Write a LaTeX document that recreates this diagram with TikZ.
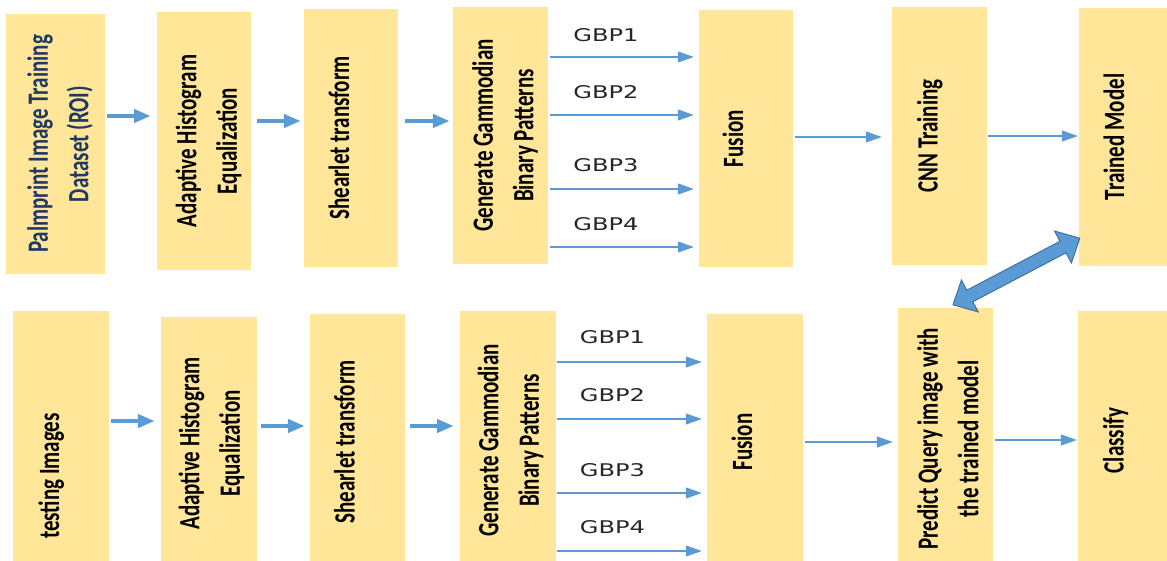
\documentclass[tikz,border=0pt]{standalone}
\usepackage{fontspec}
\setmainfont{Carlito}
\newfontfamily\gbpfont{DejaVu Sans}
\usetikzlibrary{arrows.meta,calc}
\definecolor{boxfill}{HTML}{FFE699}
\definecolor{arrblue}{HTML}{5B9BD5}
\definecolor{arredge}{HTML}{41719C}
\definecolor{navytxt}{HTML}{203864}
\newcommand{\boxtxt}[1]{\scalebox{1.4}[1]{\rotatebox{90}{\begin{tabular}{@{}c@{}}#1\end{tabular}}}}
\newcommand{\gbptxt}[1]{\scalebox{1.38}[1]{#1}}
\newcommand{\toleft}[2]{#2\hspace*{#1}}
\newcommand{\toright}[2]{\hspace*{#1}#2}
\tikzset{
  boxfont/.style={font=\bfseries\fontsize{21}{29}\selectfont},
  stagebox/.style={fill=boxfill, draw=none, inner sep=0pt, boxfont},
  gbplabel/.style={font=\gbpfont\fontsize{17.5}{20}\selectfont, inner sep=0pt, text=black!85},
  thickarrow/.style={-{Triangle[length=17pt,width=13pt]}, line width=4.5pt, draw=arrblue},
  thinarrow/.style={-{Triangle[length=16pt,width=11pt]}, line width=1.1pt, draw=arrblue},
  blockarrow/.style={fill=arrblue, draw=arredge, line width=1pt, line join=miter}
}
\begin{document}
\begin{tikzpicture}[x=1pt,y=1pt]
\useasboundingbox (0,0) rectangle (1167,-560);
\begin{scope}
\clip (0,0) rectangle (1167,-560);
% top row
\node[stagebox, minimum width=99pt, minimum height=260pt, text=navytxt] (b1) at (55.5,-144) {\toright{9pt}{\boxtxt{Palmprint Image Training\\Dataset (ROI)}}};
\node[stagebox, minimum width=94pt, minimum height=258pt] (b2) at (204,-141) {\toright{9pt}{\boxtxt{Adaptive Histogram\\Equalization}}};
\node[stagebox, minimum width=94pt, minimum height=258pt] (b3) at (351,-138) {\toleft{20pt}{\boxtxt{Shearlet transform}}};
\node[stagebox, minimum width=95pt, minimum height=257pt] (b4) at (500.5,-135.5) {\toright{9pt}{\boxtxt{Generate Gammodian\\Binary Patterns}}};
\node[stagebox, minimum width=94pt, minimum height=257pt] (b5) at (746,-138.5) {\toleft{22pt}{\boxtxt{Fusion}}};
\node[stagebox, minimum width=95pt, minimum height=258pt] (b6) at (939.5,-136) {\toleft{20pt}{\boxtxt{CNN Training}}};
\node[stagebox, minimum width=88pt, minimum height=258pt] (b7) at (1123,-137) {\toleft{14pt}{\boxtxt{Trained Model}}};
% bottom row
\node[stagebox, minimum width=96pt, minimum height=259pt,
  label={[boxfont, inner sep=0pt, xshift=-10pt, yshift=-35.5pt]center:{\boxtxt{testing Images}}}] (c1) at (61,-440.5) {};
\node[stagebox, minimum width=96pt, minimum height=253pt] (c2) at (209,-443.5) {\toright{5pt}{\boxtxt{Adaptive Histogram\\Equalization}}};
\node[stagebox, minimum width=95pt, minimum height=256pt] (c3) at (357.5,-442) {\toleft{22pt}{\boxtxt{Shearlet transform}}};
\node[stagebox, minimum width=96pt, minimum height=259pt] (c4) at (508,-440.5) {\toright{5pt}{\boxtxt{Generate Gammodian\\Binary Patterns}}};
\node[stagebox, minimum width=96pt, minimum height=256pt] (c5) at (755,-442) {\toleft{22pt}{\boxtxt{Fusion}}};
\node[stagebox, minimum width=95pt, minimum height=262pt] (c6) at (945.5,-439) {\toright{9pt}{\boxtxt{Predict Query image with\\the trained model}}};
\node[stagebox, minimum width=89pt, minimum height=259pt] (c7) at (1122.5,-440.5) {\toleft{14pt}{\boxtxt{Classify}}};
% GBP labels
\node[gbplabel] (t1) at (606,-35) {\gbptxt{GBP1}};
\node[gbplabel] (t2) at (606,-92) {\gbptxt{GBP2}};
\node[gbplabel] (t3) at (606,-165.5) {\gbptxt{GBP3}};
\node[gbplabel] (t4) at (606,-224) {\gbptxt{GBP4}};
\node[gbplabel] (u1) at (612.5,-337.5) {\gbptxt{GBP1}};
\node[gbplabel] (u2) at (612.5,-395.5) {\gbptxt{GBP2}};
\node[gbplabel] (u3) at (612.5,-470) {\gbptxt{GBP3}};
\node[gbplabel] (u4) at (612.5,-527.5) {\gbptxt{GBP4}};
% thick arrows top
\draw[thickarrow, shorten <=2pt] (b1.east |- 0,-116) -- ([xshift=-6pt]b2.west |- 0,-116);
\draw[thickarrow, shorten <=6pt] (b2.east |- 0,-121) -- ([xshift=-3pt]b3.west |- 0,-121);
\draw[thickarrow, shorten <=7pt] (b3.east |- 0,-121) -- ([xshift=-3pt]b4.west |- 0,-121);
% thick arrows bottom
\draw[thickarrow, shorten <=2pt] (c1.east |- 0,-421) -- ([xshift=-6pt]c2.west |- 0,-421);
\draw[thickarrow, shorten <=4pt] (c2.east |- 0,-426) -- ([xshift=-5pt]c3.west |- 0,-426);
\draw[thickarrow, shorten <=5pt] (c3.east |- 0,-426) -- ([xshift=-6pt]c4.west |- 0,-426);
% GBP arrows top
\draw[thinarrow, shorten <=2pt] (b4.east |- 0,-57) -- ([xshift=-5pt]b5.west |- 0,-57);
\draw[thinarrow, shorten <=2pt] (b4.east |- 0,-115) -- ([xshift=-5pt]b5.west |- 0,-115);
\draw[thinarrow, shorten <=2pt] (b4.east |- 0,-189) -- ([xshift=-5pt]b5.west |- 0,-189);
\draw[thinarrow, shorten <=2pt] (b4.east |- 0,-247) -- ([xshift=-5pt]b5.west |- 0,-247);
% GBP arrows bottom
\draw[thinarrow, shorten <=1pt] (c4.east |- 0,-362) -- ([xshift=-5pt]c5.west |- 0,-362);
\draw[thinarrow, shorten <=1pt] (c4.east |- 0,-419) -- ([xshift=-5pt]c5.west |- 0,-419);
\draw[thinarrow, shorten <=1pt] (c4.east |- 0,-493) -- ([xshift=-5pt]c5.west |- 0,-493);
\draw[thinarrow, shorten <=1pt] (c4.east |- 0,-551) -- ([xshift=-5pt]c5.west |- 0,-551);
% remaining thin arrows
\draw[thinarrow, shorten <=2pt] (b5.east |- 0,-137) -- ([xshift=-10pt]b6.west |- 0,-137);
\draw[thinarrow, shorten <=1pt] (b6.east |- 0,-136) -- ([xshift=-1pt]b7.west |- 0,-136);
\draw[thinarrow, shorten <=2pt] (c5.east |- 0,-442) -- ([xshift=-5pt]c6.west |- 0,-442);
\draw[thinarrow, shorten <=2pt] (c6.east |- 0,-440) -- ([xshift=-1pt]c7.west |- 0,-440);
% double block arrow
\coordinate (dA) at ($(c6.north)+(7.5,3)$);
\coordinate (dB) at ($(b7.south west)+(1,28)$);
\draw[blockarrow]
  (dA) -- ($(dA)!26.17pt!43.45:(dB)$) -- ($(dA)!20.08pt!18.89:(dB)$)
  -- ($(dB)!20.08pt!-18.89:(dA)$) -- ($(dB)!26.17pt!-43.45:(dA)$) -- (dB)
  -- ($(dB)!26.17pt!43.45:(dA)$) -- ($(dB)!20.08pt!18.89:(dA)$)
  -- ($(dA)!20.08pt!-18.89:(dB)$) -- ($(dA)!26.17pt!-43.45:(dB)$) -- cycle;
\end{scope}
\end{tikzpicture}
\end{document}
